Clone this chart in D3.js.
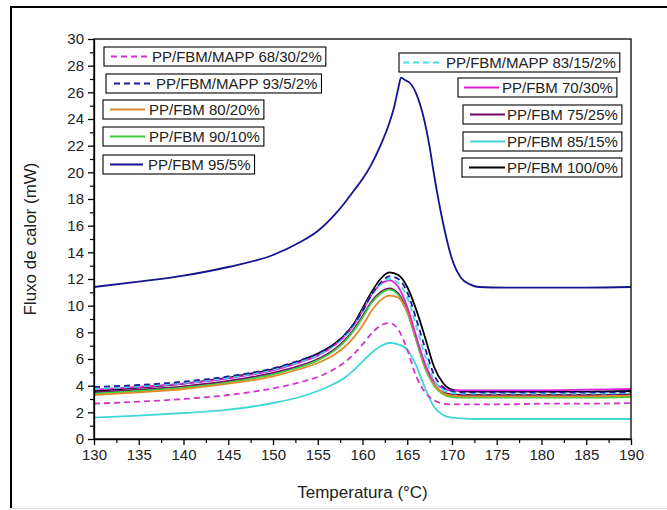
<!DOCTYPE html>
<html><head><meta charset="utf-8">
<script src="https://cdn.jsdelivr.net/npm/d3@7"></script>
<style>
body{margin:0;background:#fff;}
svg{display:block;}
text{font-family:"Liberation Sans",Arial,Helvetica,sans-serif;fill:#222;}
</style>
</head><body>
<svg id="c" width="667" height="510"></svg>
<script>
// ---- DATA ----
const temps = [130,135,140,145,150,153,155,157,158,159,160,161,162,163,164,165,166,167,168,169,170,171,173,176,180,185,190];
const temps95 = [130,135,140,145,150,153,155,157,158,159,160,161,162,163,163.5,164,164.3,164.8,165.3,166,166.8,167.5,168,169,170,171,172,173,176,180,185,190];

const v68_30_2 = [2.65,2.8,3.0,3.3,3.8,4.25,4.65,5.3,5.75,6.35,7.1,7.9,8.5,8.7,8.2,6.7,4.7,3.5,2.9,2.65,2.6,2.6,2.6,2.6,2.65,2.65,2.7];
const v93_5_2  = [3.9,4.05,4.3,4.7,5.3,5.9,6.4,7.2,7.8,8.6,9.6,10.8,11.7,12.2,12.0,11.0,9.0,6.8,4.8,3.9,3.6,3.5,3.5,3.5,3.5,3.5,3.5];
const v80_20   = [3.3,3.5,3.75,4.15,4.7,5.25,5.7,6.4,6.9,7.6,8.5,9.6,10.4,10.75,10.6,9.5,7.6,5.5,4.1,3.45,3.25,3.2,3.2,3.2,3.2,3.2,3.25];
const v90_10   = [3.4,3.6,3.85,4.25,4.85,5.4,5.9,6.7,7.3,8.1,9.1,10.2,10.9,11.2,10.8,9.5,7.4,5.3,4.0,3.35,3.15,3.1,3.1,3.1,3.1,3.1,3.15];
const v95_5    = [11.4,11.8,12.25,12.9,13.8,14.75,15.6,16.9,17.7,18.6,19.5,20.6,22.0,23.7,24.8,26.3,27.1,26.9,26.7,25.9,24.2,21.9,19.8,16.2,13.5,12.1,11.6,11.4,11.35,11.35,11.35,11.4];
const v83_15_2 = [3.75,3.95,4.2,4.6,5.2,5.8,6.3,7.1,7.7,8.5,9.6,10.8,11.6,12.0,11.7,10.6,8.5,6.2,4.4,3.7,3.45,3.4,3.4,3.4,3.4,3.4,3.45];
const v70_30   = [3.7,3.9,4.15,4.55,5.15,5.75,6.25,7.1,7.7,8.5,9.6,10.8,11.6,11.9,11.4,9.9,7.7,5.6,4.3,3.8,3.65,3.65,3.65,3.65,3.65,3.7,3.75];
const v75_25   = [3.5,3.7,3.95,4.35,4.95,5.5,6.0,6.8,7.4,8.2,9.2,10.3,11.0,11.3,10.9,9.6,7.5,5.4,4.1,3.5,3.35,3.3,3.3,3.3,3.3,3.3,3.35];
const v85_15   = [1.6,1.75,1.95,2.2,2.7,3.15,3.6,4.2,4.6,5.15,5.8,6.45,6.95,7.2,7.1,6.7,5.5,3.8,2.4,1.8,1.6,1.55,1.5,1.5,1.5,1.5,1.5];
const v100_0   = [3.6,3.85,4.15,4.6,5.25,5.85,6.4,7.2,7.8,8.6,9.8,11.0,12.0,12.5,12.3,11.4,9.7,7.6,5.4,4.2,3.7,3.6,3.55,3.55,3.55,3.55,3.6];

const seriesNames = ["PP/FBM/MAPP 68/30/2%","PP/FBM/MAPP 93/5/2%","PP/FBM 80/20%","PP/FBM 90/10%","PP/FBM 95/5%",
                     "PP/FBM/MAPP 83/15/2%","PP/FBM 70/30%","PP/FBM 75/25%","PP/FBM 85/15%","PP/FBM 100/0%"];
const xTickValues = [130,135,140,145,150,155,160,165,170,175,180,185,190];
const xMinorValues = [132.5,137.5,142.5,147.5,152.5,157.5,162.5,167.5,172.5,177.5,182.5,187.5];
const yTickValues = [0,2,4,6,8,10,12,14,16,18,20,22,24,26,28,30];
const yMinorValues = [1,3,5,7,9,11,13,15,17,19,21,23,25,27,29];
const xTitle = "Temperatura (°C)";
const yTitle = "Fluxo de calor (mW)";

// ---- STYLE / LAYOUT ----
const styles = [
  {color:"#d233c8", dash:"6,4"},
  {color:"#1c1c9c", dash:"6,4"},
  {color:"#e08a2a", dash:null},
  {color:"#3fcc3f", dash:null},
  {color:"#14148e", dash:null},
  {color:"#3ee0e0", dash:"6,4"},
  {color:"#e01fd8", dash:null},
  {color:"#6e0a6a", dash:null},
  {color:"#42d6d6", dash:null},
  {color:"#000000", dash:null}
];
const seriesData = [
  [temps, v68_30_2],[temps, v93_5_2],[temps, v80_20],[temps, v90_10],[temps95, v95_5],
  [temps, v83_15_2],[temps, v70_30],[temps, v75_25],[temps, v85_15],[temps, v100_0]
];
// legend layout: box x, top y, line x1, x2, text x
const legendLayout = [
  [104,47,111,148,152],[106,74,114,152,156],[103,100,110,145,149],[103,127,110,145,149],[103,155,110,143,148],
  [399,53,403,443,446],[458,78,464,499,502],[463,105,470,505,507],[463,132,470,505,507],[462,158,469,505,507]
];
const drawOrder = [9,8,7,3,2,6,4,5,1,0];

const svg = d3.select("#c");
const W = 667, H = 510;
const L = 94, R = 631, T = 39, B = 439;

const x = d3.scaleLinear().domain([130,190]).range([L,R]);
const y = d3.scaleLinear().domain([0,30]).range([B,T]);

// outer frame
svg.append("line").attr("x1",11).attr("x2",11).attr("y1",7).attr("y2",508).attr("stroke","#000").attr("stroke-width",2);
svg.append("line").attr("x1",10).attr("x2",W).attr("y1",7).attr("y2",7).attr("stroke","#000").attr("stroke-width",2);
svg.append("line").attr("x1",10).attr("x2",W).attr("y1",508.5).attr("y2",508.5).attr("stroke","#ddd").attr("stroke-width",1);

// clip
svg.append("defs").append("clipPath").attr("id","pc").append("rect")
  .attr("x",L).attr("y",T).attr("width",R-L).attr("height",B-T);

// curves
const line = d3.line().x(d=>x(d[0])).y(d=>y(d[1])).curve(d3.curveMonotoneX);
const gc = svg.append("g").attr("clip-path","url(#pc)");
drawOrder.forEach(i=>{
  const [ts, vs] = seriesData[i];
  const pts = ts.map((t,k)=>[t, vs[k]]);
  gc.append("path").attr("d", line(pts)).attr("fill","none")
    .attr("stroke", styles[i].color).attr("stroke-width", 1.8)
    .attr("stroke-dasharray", styles[i].dash).attr("stroke-linejoin","round");
});

// plot box
svg.append("rect").attr("x",L).attr("y",T).attr("width",R-L).attr("height",B-T)
  .attr("fill","none").attr("stroke","#000").attr("stroke-width",1.3);

// axes
const fs = "15px";
const gx = svg.append("g").attr("transform",`translate(0,${B})`)
  .call(d3.axisBottom(x).tickValues(xTickValues).tickSize(6).tickSizeOuter(0).tickPadding(4));
gx.select(".domain").attr("stroke-width",1.3);
gx.selectAll("text").style("font-size",fs).attr("fill","#222");
gx.selectAll(".tick line").attr("stroke-width",1.3);
const gxm = svg.append("g").attr("transform",`translate(0,${B})`)
  .call(d3.axisBottom(x).tickValues(xMinorValues).tickSize(4).tickFormat(""));
gxm.select(".domain").remove();
gxm.selectAll(".tick line").attr("stroke-width",1.2);

const gy = svg.append("g").attr("transform",`translate(${L},0)`)
  .call(d3.axisLeft(y).tickValues(yTickValues).tickSize(6).tickSizeOuter(0).tickPadding(4));
gy.select(".domain").attr("stroke-width",1.3);
gy.selectAll("text").style("font-size",fs).attr("fill","#222");
gy.selectAll(".tick line").attr("stroke-width",1.3);
const gym = svg.append("g").attr("transform",`translate(${L},0)`)
  .call(d3.axisLeft(y).tickValues(yMinorValues).tickSize(4).tickFormat(""));
gym.select(".domain").remove();
gym.selectAll(".tick line").attr("stroke-width",1.2);

// titles
svg.append("text").attr("x",(L+R)/2).attr("y",498).attr("text-anchor","middle")
  .style("font-size","17px").text(xTitle);
svg.append("text").attr("transform",`translate(36,${(T+B)/2}) rotate(-90)`).attr("text-anchor","middle")
  .style("font-size","17px").text(yTitle);

// legends
seriesNames.forEach((name,i)=>{
  const [bx,by,lx1,lx2,tx] = legendLayout[i];
  const g = svg.append("g");
  const rect = g.append("rect").attr("x",bx).attr("y",by).attr("height",19)
    .attr("fill","#fff").attr("stroke","#000").attr("stroke-width",1.1);
  g.append("line").attr("x1",lx1).attr("x2",lx2).attr("y1",by+9.5).attr("y2",by+9.5)
    .attr("stroke",styles[i].color).attr("stroke-width",2).attr("stroke-dasharray",styles[i].dash);
  const t = g.append("text").attr("x",tx).attr("y",by+15).style("font-size","15px").text(name);
  const w = t.node().getComputedTextLength();
  rect.attr("width", tx + w + 4 - bx);
});
</script>
</body></html>
